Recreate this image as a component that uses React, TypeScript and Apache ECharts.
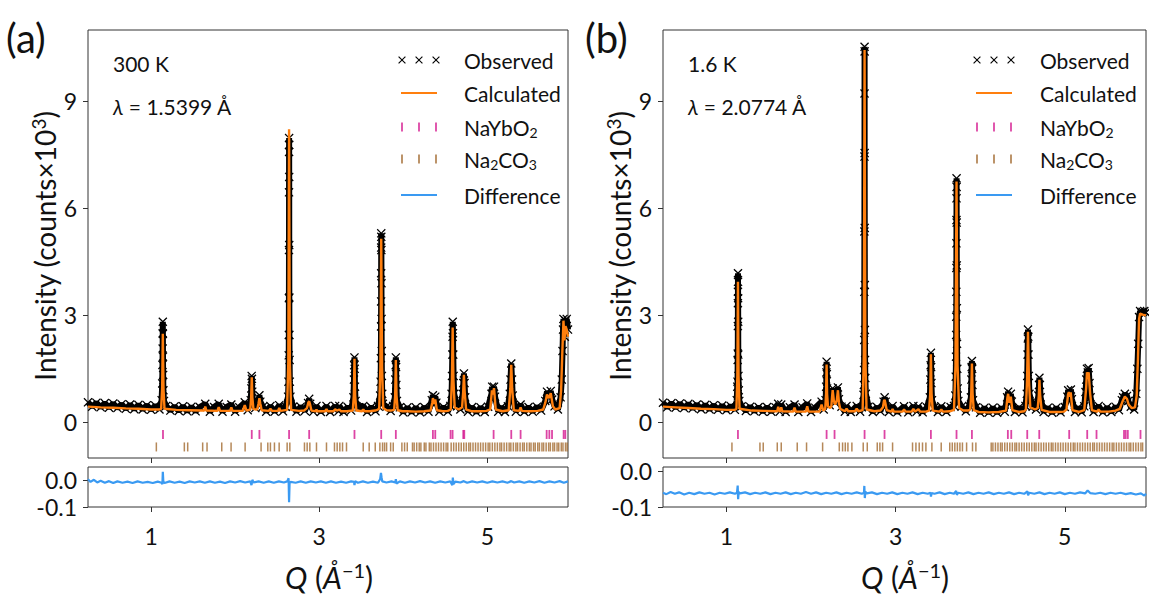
import React, { useEffect, useRef } from 'react';
import * as echarts from 'echarts';

// ---------- axes ----------
const X_MIN = 0.25;
const X_MAX = 5.96;
const xTickValues = [1, 3, 5];
const yTickValues = [0, 3, 6, 9];
const diffTickValues = [-0.1, 0.0];

// ---------- panel (a) 300 K ----------
const calcA: number[][] = [
  [0.25,0.44],[0.40,0.42],[0.55,0.41],[0.70,0.39],[0.85,0.38],[1.00,0.36],[1.10,0.36],
  [1.120,0.38],[1.132,0.95],[1.140,2.48],[1.148,0.95],[1.160,0.38],
  [1.30,0.35],[1.45,0.34],[1.60,0.33],[1.632,0.33],[1.645,0.44],[1.658,0.33],
  [1.79,0.32],[1.805,0.43],[1.82,0.32],[1.94,0.32],[1.955,0.42],[1.97,0.32],
  [2.09,0.32],[2.115,0.48],[2.135,0.33],
  [2.180,0.36],[2.191,0.70],[2.198,1.26],[2.205,0.70],[2.218,0.37],
  [2.262,0.36],[2.278,0.52],[2.289,0.68],[2.300,0.52],[2.316,0.34],
  [2.40,0.32],[2.42,0.38],[2.44,0.32],[2.51,0.32],[2.525,0.40],[2.54,0.32],
  [2.618,0.35],[2.633,1.70],[2.642,8.22],[2.651,1.70],[2.666,0.35],
  [2.76,0.32],[2.82,0.33],[2.855,0.40],[2.872,0.56],[2.881,0.59],[2.890,0.52],[2.908,0.33],
  [2.96,0.31],[2.968,0.36],[2.976,0.31],[3.07,0.31],[3.087,0.37],[3.10,0.31],
  [3.17,0.31],[3.19,0.37],[3.21,0.33],[3.24,0.36],[3.26,0.31],[3.33,0.31],
  [3.400,0.33],[3.412,0.75],[3.420,1.78],[3.428,0.75],[3.442,0.33],
  [3.51,0.31],[3.525,0.36],[3.54,0.31],[3.60,0.31],[3.665,0.33],[3.69,0.35],
  [3.714,0.38],[3.728,1.55],[3.738,5.15],[3.748,1.55],[3.762,0.40],
  [3.80,0.34],[3.85,0.33],
  [3.892,0.35],[3.904,0.75],[3.912,1.75],[3.920,0.75],[3.934,0.34],
  [3.99,0.31],[4.05,0.31],[4.15,0.30],[4.25,0.31],
  [4.325,0.33],[4.345,0.55],[4.353,0.68],[4.366,0.52],[4.381,0.64],[4.40,0.34],
  [4.47,0.31],[4.53,0.32],
  [4.565,0.36],[4.579,1.20],[4.588,2.66],[4.597,1.20],[4.612,0.42],
  [4.660,0.36],[4.700,0.42],[4.713,0.85],[4.722,1.33],[4.731,0.85],[4.748,0.36],
  [4.82,0.31],[4.92,0.31],[4.99,0.32],
  [5.035,0.36],[5.055,0.90],[5.066,0.78],[5.080,0.96],[5.100,0.36],
  [5.18,0.31],
  [5.255,0.34],[5.274,0.95],[5.285,1.61],[5.296,0.95],[5.315,0.34],
  [5.38,0.32],[5.396,0.42],[5.41,0.32],[5.50,0.31],[5.60,0.32],
  [5.665,0.36],[5.690,0.55],[5.710,0.78],[5.733,0.68],[5.755,0.82],[5.780,0.45],[5.810,0.36],
  [5.86,0.40],[5.878,0.90],[5.893,2.00],[5.906,2.85],[5.918,2.30],[5.930,2.70],[5.945,2.60],[5.96,2.40]
];

const obsA: number[][] = [
  [0.25,0.56],[0.30,0.44],[0.35,0.55],[0.40,0.42],[0.45,0.54],[0.50,0.41],[0.55,0.53],[0.60,0.40],
  [0.65,0.51],[0.70,0.38],[0.75,0.50],[0.80,0.37],[0.85,0.49],[0.90,0.36],[0.95,0.48],[1.00,0.35],
  [1.05,0.47],[1.10,0.36],
  [1.126,0.62],[1.133,1.09],[1.136,1.61],[1.138,2.07],[1.139,2.50],[1.140,2.82],[1.141,2.48],
  [1.142,1.84],[1.144,1.33],[1.147,0.90],[1.154,0.60],
  [1.18,0.46],[1.23,0.33],[1.28,0.45],[1.33,0.32],[1.38,0.45],[1.43,0.31],[1.48,0.44],[1.53,0.31],
  [1.58,0.43],[1.645,0.52],[1.70,0.30],[1.75,0.43],[1.805,0.52],[1.85,0.30],[1.90,0.43],[1.955,0.50],
  [2.00,0.30],[2.05,0.42],[2.115,0.56],[2.15,0.34],
  [2.186,0.62],[2.193,0.95],[2.197,1.30],[2.200,1.22],[2.204,0.86],[2.212,0.52],
  [2.24,0.40],
  [2.278,0.58],[2.289,0.76],[2.300,0.58],
  [2.33,0.44],[2.37,0.30],[2.42,0.46],[2.47,0.30],[2.525,0.48],[2.57,0.31],[2.60,0.44],
  [2.630,0.72],[2.635,1.14],[2.638,1.88],[2.639,2.45],[2.640,3.48],[2.641,4.83],[2.6415,6.45],
  [2.642,7.58],[2.6425,7.97],[2.643,7.78],[2.6435,6.88],[2.644,4.97],[2.645,3.50],[2.646,2.45],
  [2.648,1.75],[2.651,1.14],[2.658,0.72],
  [2.69,0.44],[2.73,0.30],[2.78,0.44],[2.83,0.32],
  [2.868,0.54],[2.881,0.66],[2.893,0.52],
  [2.93,0.30],[2.968,0.46],[3.02,0.29],[3.087,0.46],[3.13,0.29],[3.19,0.46],[3.23,0.31],[3.24,0.46],
  [3.29,0.29],[3.34,0.43],[3.38,0.33],
  [3.408,0.70],[3.414,1.20],[3.417,1.60],[3.420,1.82],[3.423,1.50],[3.426,1.00],[3.433,0.60],
  [3.47,0.42],[3.525,0.46],[3.57,0.29],[3.62,0.43],[3.67,0.31],[3.70,0.46],
  [3.725,0.75],[3.731,1.14],[3.734,1.80],[3.736,2.69],[3.737,3.39],[3.7375,4.18],[3.738,4.90],
  [3.7385,5.30],[3.739,5.20],[3.740,4.83],[3.741,3.90],[3.742,2.90],[3.744,2.00],[3.746,1.30],
  [3.750,0.80],[3.758,0.52],
  [3.80,0.44],[3.85,0.32],[3.88,0.46],
  [3.900,0.70],[3.906,1.20],[3.910,1.60],[3.912,1.82],[3.915,1.55],[3.918,1.05],[3.925,0.60],
  [3.96,0.42],[4.00,0.28],[4.05,0.42],[4.10,0.28],[4.15,0.42],[4.20,0.28],[4.25,0.43],[4.30,0.30],
  [4.34,0.62],[4.353,0.76],[4.366,0.60],[4.381,0.72],[4.394,0.55],
  [4.43,0.30],[4.48,0.43],[4.53,0.30],[4.56,0.46],
  [4.575,0.80],[4.580,1.30],[4.584,1.90],[4.587,2.40],[4.589,2.82],[4.592,2.50],[4.595,1.90],
  [4.599,1.30],[4.606,0.80],
  [4.64,0.45],[4.68,0.36],
  [4.708,0.80],[4.715,1.10],[4.722,1.37],[4.729,1.10],[4.737,0.70],
  [4.77,0.30],[4.82,0.43],[4.87,0.28],[4.92,0.42],[4.97,0.29],[5.01,0.44],
  [5.050,0.80],[5.058,1.00],[5.068,0.86],[5.080,1.00],[5.092,0.72],
  [5.13,0.30],[5.17,0.43],[5.21,0.29],[5.245,0.45],
  [5.268,0.80],[5.276,1.20],[5.285,1.65],[5.294,1.20],[5.302,0.75],
  [5.34,0.30],[5.396,0.50],[5.44,0.29],[5.49,0.43],[5.54,0.30],[5.59,0.44],[5.64,0.33],
  [5.69,0.60],[5.71,0.86],[5.733,0.74],[5.755,0.88],[5.772,0.64],[5.80,0.45],[5.84,0.36],
  [5.872,0.70],[5.886,1.20],[5.895,2.00],[5.901,2.60],[5.906,2.90],[5.914,2.55],[5.922,2.40],
  [5.930,2.85],[5.945,2.90],[5.96,2.60]
];

const diffA: number[][] = [
  [0.25,0.004],[0.28,-0.006],[0.32,0.002],[0.36,-0.008],[0.40,-0.002],[0.45,-0.009],[0.50,-0.003],
  [0.55,-0.010],[0.60,-0.004],[0.66,-0.009],[0.72,-0.005],[0.78,-0.010],[0.84,-0.004],[0.90,-0.009],
  [0.96,-0.006],[1.02,-0.010],[1.08,-0.005],[1.125,-0.009],[1.135,-0.015],[1.140,0.032],[1.146,-0.004],
  [1.16,-0.010],[1.22,-0.004],[1.28,-0.009],[1.34,-0.005],[1.40,-0.010],[1.46,-0.004],[1.52,-0.008],
  [1.58,-0.004],[1.64,-0.009],[1.70,-0.004],[1.76,-0.009],[1.82,-0.005],[1.88,-0.010],[1.94,-0.004],
  [2.00,-0.008],[2.06,-0.003],[2.12,-0.008],[2.18,-0.004],[2.195,-0.018],[2.205,0.002],[2.22,-0.008],
  [2.28,-0.004],[2.34,-0.009],[2.40,-0.004],[2.46,-0.009],[2.52,-0.004],[2.58,-0.008],[2.62,-0.004],
  [2.636,0.008],[2.642,-0.082],[2.648,-0.010],[2.66,-0.006],[2.72,-0.009],[2.78,-0.004],[2.84,-0.009],
  [2.90,-0.004],[2.96,-0.008],[3.02,-0.004],[3.08,-0.009],[3.14,-0.004],[3.20,-0.009],[3.26,-0.005],
  [3.32,-0.009],[3.38,-0.004],[3.415,-0.006],[3.42,-0.018],[3.428,-0.003],[3.46,-0.009],[3.52,-0.004],
  [3.58,-0.009],[3.64,-0.005],[3.70,-0.009],[3.726,0.005],[3.735,0.028],[3.742,0.012],[3.75,-0.004],
  [3.80,-0.008],[3.86,-0.004],[3.905,-0.008],[3.912,0.004],[3.92,-0.012],[3.96,-0.004],[4.02,-0.009],
  [4.08,-0.004],[4.14,-0.008],[4.20,-0.003],[4.26,-0.008],[4.32,-0.004],[4.38,-0.009],[4.44,-0.004],
  [4.50,-0.008],[4.56,-0.004],[4.584,-0.018],[4.590,0.010],[4.598,-0.014],[4.62,-0.005],[4.68,-0.008],
  [4.72,-0.003],[4.76,-0.009],[4.82,-0.004],[4.88,-0.008],[4.94,-0.004],[5.00,-0.009],[5.06,-0.004],
  [5.12,-0.008],[5.18,-0.004],[5.24,-0.009],[5.285,-0.003],[5.32,-0.008],[5.38,-0.004],[5.44,-0.009],
  [5.50,-0.004],[5.56,-0.008],[5.62,-0.003],[5.68,-0.009],[5.74,-0.004],[5.80,-0.008],[5.86,-0.003],
  [5.91,-0.009],[5.96,-0.004]
];

const naybA = [1.142, 2.198, 2.289, 2.642, 2.881, 3.420, 3.738, 3.912, 4.353, 4.381, 4.563, 4.587,
  4.714, 4.726, 5.075, 5.285, 5.396, 5.706, 5.738, 5.770, 5.908, 5.928];

const carbA = [1.063, 1.396, 1.436, 1.614, 1.666, 1.841, 1.952, 2.119, 2.309, 2.389, 2.420, 2.468,
  2.524, 2.619, 2.651, 2.825, 2.857, 2.889, 2.968, 3.087, 3.182, 3.214, 3.246, 3.278, 3.325, 3.524,
  3.595, 3.667, 3.722, 3.754, 3.778, 3.802, 3.850, 3.881, 3.984, 4.016, 4.048, 4.11, 4.13, 4.16, 4.19,
  4.21, 4.25, 4.27, 4.31, 4.33, 4.36, 4.39, 4.42, 4.45, 4.48, 4.51, 4.53, 4.57, 4.60, 4.63, 4.66, 4.69,
  4.72, 4.75, 4.78, 4.80, 4.83, 4.86, 4.89, 4.92, 4.95, 4.98, 5.01, 5.03, 5.06, 5.09, 5.12, 5.15, 5.17,
  5.20, 5.23, 5.26, 5.28, 5.31, 5.34, 5.36, 5.39, 5.42, 5.44, 5.47, 5.50, 5.52, 5.55, 5.57, 5.60, 5.62,
  5.65, 5.67, 5.70, 5.73, 5.75, 5.78, 5.80, 5.83, 5.85, 5.88, 5.90, 5.93, 5.95];

// ---------- panel (b) 1.6 K ----------
const calcB: number[][] = [
  [0.25,0.44],[0.40,0.42],[0.55,0.40],[0.70,0.38],[0.85,0.37],[1.00,0.35],[1.10,0.35],
  [1.118,0.38],[1.129,1.30],[1.136,3.94],[1.143,1.30],[1.155,0.38],
  [1.30,0.33],[1.45,0.32],[1.58,0.31],[1.600,0.31],[1.612,0.44],[1.624,0.31],[1.635,0.31],[1.648,0.42],[1.66,0.31],
  [1.79,0.30],[1.805,0.41],[1.82,0.30],[1.94,0.30],[1.955,0.45],[1.97,0.30],
  [2.10,0.30],[2.125,0.50],[2.145,0.33],
  [2.168,0.38],[2.178,0.80],[2.184,1.62],[2.190,0.80],[2.200,0.45],[2.225,0.40],
  [2.240,0.45],[2.250,0.75],[2.256,0.90],[2.270,0.60],[2.285,0.50],[2.305,0.62],[2.318,0.90],[2.330,0.55],[2.345,0.38],
  [2.40,0.31],[2.42,0.38],[2.44,0.31],[2.52,0.31],[2.54,0.38],[2.56,0.31],
  [2.610,0.34],[2.624,1.90],[2.633,10.44],[2.642,1.90],[2.656,0.36],
  [2.75,0.31],[2.82,0.33],[2.85,0.42],[2.862,0.60],[2.870,0.63],[2.878,0.55],[2.895,0.34],
  [2.95,0.30],[2.964,0.37],[2.978,0.30],[3.08,0.30],[3.10,0.36],[3.12,0.30],
  [3.19,0.30],[3.21,0.38],[3.23,0.30],[3.27,0.37],[3.29,0.30],[3.36,0.30],
  [3.395,0.33],[3.409,0.80],[3.417,1.91],[3.425,0.80],[3.439,0.33],
  [3.52,0.30],[3.54,0.36],[3.56,0.30],[3.64,0.31],
  [3.690,0.35],[3.708,1.60],[3.720,6.75],[3.732,1.60],[3.750,0.40],
  [3.80,0.33],[3.86,0.33],
  [3.882,0.36],[3.894,0.80],[3.902,1.65],[3.910,0.80],[3.924,0.34],
  [3.98,0.29],[4.10,0.28],[4.22,0.29],
  [4.305,0.33],[4.322,0.70],[4.330,0.80],[4.345,0.55],[4.362,0.72],[4.380,0.34],
  [4.46,0.29],[4.52,0.31],
  [4.540,0.36],[4.554,1.20],[4.565,2.54],[4.576,1.20],[4.592,0.42],
  [4.650,0.36],[4.680,0.40],[4.693,0.75],[4.700,1.19],[4.709,0.75],[4.726,0.35],
  [4.82,0.29],[4.92,0.29],[4.99,0.30],
  [5.020,0.36],[5.038,0.78],[5.048,0.85],[5.058,0.72],[5.070,0.84],[5.090,0.34],
  [5.17,0.29],
  [5.230,0.34],[5.252,0.95],[5.262,1.40],[5.272,1.35],[5.282,1.40],[5.300,0.80],[5.320,0.34],
  [5.38,0.30],[5.40,0.36],[5.42,0.30],[5.52,0.30],[5.60,0.33],
  [5.650,0.38],[5.685,0.60],[5.710,0.72],[5.735,0.66],[5.755,0.50],[5.790,0.40],[5.83,0.42],
  [5.850,0.75],[5.865,1.80],[5.878,2.90],[5.890,3.05],[5.920,3.02],[5.96,3.00]
];

const obsB: number[][] = [
  [0.25,0.55],[0.30,0.42],[0.35,0.54],[0.40,0.41],[0.45,0.53],[0.50,0.40],[0.55,0.52],[0.60,0.39],
  [0.65,0.50],[0.70,0.37],[0.75,0.49],[0.80,0.36],[0.85,0.48],[0.90,0.35],[0.95,0.47],[1.00,0.34],
  [1.05,0.46],[1.10,0.35],
  [1.122,0.62],[1.128,1.00],[1.131,1.14],[1.133,1.75],[1.134,1.93],[1.135,2.70],[1.1355,3.34],
  [1.136,3.66],[1.1365,4.18],[1.137,3.94],[1.138,3.48],[1.139,2.82],[1.140,1.90],[1.142,1.30],
  [1.146,0.90],[1.152,0.60],
  [1.18,0.45],[1.23,0.32],[1.28,0.44],[1.33,0.31],[1.38,0.43],[1.43,0.30],[1.48,0.43],[1.53,0.30],
  [1.58,0.42],[1.612,0.52],[1.63,0.30],[1.648,0.50],[1.70,0.29],[1.75,0.42],[1.805,0.50],[1.85,0.29],
  [1.90,0.42],[1.955,0.53],[2.00,0.29],[2.05,0.41],[2.125,0.58],[2.15,0.36],
  [2.172,0.62],[2.179,1.00],[2.182,1.40],[2.184,1.70],[2.187,1.35],[2.190,0.95],[2.198,0.60],
  [2.22,0.48],
  [2.245,0.75],[2.256,0.95],[2.285,0.55],[2.318,0.98],[2.330,0.65],
  [2.36,0.44],[2.40,0.30],[2.42,0.46],[2.47,0.29],[2.54,0.46],[2.58,0.30],[2.60,0.42],
  [2.621,0.77],[2.625,1.05],[2.627,1.47],[2.629,2.31],[2.630,3.66],[2.631,5.35],[2.632,7.45],
  [2.6325,9.22],[2.633,10.53],[2.6335,10.40],[2.634,7.55],[2.635,5.45],[2.636,3.85],[2.637,2.59],
  [2.639,1.75],[2.642,1.24],[2.648,0.80],
  [2.68,0.44],[2.73,0.29],[2.78,0.43],[2.82,0.31],
  [2.858,0.58],[2.870,0.70],[2.882,0.58],
  [2.92,0.29],[2.964,0.46],[3.02,0.28],[3.10,0.45],[3.15,0.28],[3.21,0.46],[3.25,0.30],[3.27,0.45],
  [3.32,0.28],[3.37,0.42],
  [3.405,0.70],[3.411,1.20],[3.414,1.60],[3.417,1.95],[3.420,1.55],[3.423,1.10],[3.430,0.62],
  [3.46,0.42],[3.50,0.29],[3.54,0.45],[3.60,0.29],[3.65,0.43],[3.69,0.46],
  [3.706,0.75],[3.711,1.28],[3.714,1.84],[3.716,2.45],[3.717,2.96],[3.718,3.66],[3.7185,4.33],
  [3.719,5.02],[3.7195,5.67],[3.720,6.28],[3.7205,6.84],[3.721,6.60],[3.722,5.60],[3.723,4.40],
  [3.724,3.20],[3.726,2.20],[3.729,1.50],[3.734,0.95],[3.742,0.60],
  [3.78,0.44],[3.83,0.31],[3.87,0.46],
  [3.890,0.70],[3.896,1.20],[3.899,1.55],[3.902,1.72],[3.905,1.50],[3.908,1.05],[3.915,0.62],
  [3.95,0.42],[4.00,0.27],[4.05,0.41],[4.10,0.27],[4.15,0.41],[4.20,0.27],[4.25,0.41],[4.29,0.30],
  [4.318,0.70],[4.330,0.86],[4.345,0.66],[4.362,0.80],[4.374,0.58],
  [4.41,0.29],[4.46,0.42],[4.50,0.28],[4.535,0.46],
  [4.551,0.80],[4.556,1.30],[4.560,1.90],[4.563,2.35],[4.565,2.60],[4.568,2.40],[4.571,1.90],
  [4.575,1.30],[4.582,0.80],
  [4.62,0.44],[4.66,0.36],
  [4.688,0.75],[4.695,1.05],[4.700,1.25],[4.706,1.05],[4.714,0.70],
  [4.75,0.29],[4.80,0.41],[4.85,0.27],[4.90,0.41],[4.95,0.28],[5.00,0.43],
  [5.030,0.72],[5.040,0.90],[5.058,0.80],[5.072,0.92],[5.084,0.65],
  [5.12,0.29],[5.16,0.42],[5.20,0.28],[5.23,0.45],
  [5.245,0.85],[5.254,1.20],[5.262,1.50],[5.272,1.40],[5.282,1.52],[5.292,1.10],[5.305,0.70],
  [5.34,0.29],[5.40,0.46],[5.45,0.28],[5.50,0.42],[5.55,0.29],[5.60,0.44],[5.64,0.34],
  [5.675,0.62],[5.69,0.70],[5.71,0.80],[5.735,0.74],[5.75,0.60],
  [5.78,0.44],[5.82,0.36],
  [5.845,0.80],[5.858,1.50],[5.868,2.20],[5.878,2.95],[5.890,3.12],[5.905,3.08],[5.92,3.10],
  [5.94,3.12],[5.96,3.08]
];

const diffB: number[][] = [
  [0.25,-0.060],[0.29,-0.064],[0.34,-0.058],[0.39,-0.063],[0.44,-0.059],[0.50,-0.065],[0.56,-0.060],
  [0.62,-0.064],[0.68,-0.059],[0.74,-0.063],[0.80,-0.060],[0.86,-0.065],[0.92,-0.060],[0.98,-0.063],
  [1.04,-0.059],[1.10,-0.063],[1.125,-0.060],[1.133,-0.040],[1.138,-0.078],[1.145,-0.058],[1.16,-0.062],
  [1.22,-0.059],[1.28,-0.064],[1.34,-0.060],[1.40,-0.063],[1.46,-0.059],[1.52,-0.064],[1.58,-0.060],
  [1.64,-0.063],[1.70,-0.059],[1.76,-0.064],[1.82,-0.060],[1.88,-0.063],[1.94,-0.058],[2.00,-0.063],
  [2.06,-0.059],[2.12,-0.064],[2.18,-0.060],[2.24,-0.063],[2.30,-0.059],[2.36,-0.064],[2.42,-0.060],
  [2.48,-0.063],[2.54,-0.059],[2.60,-0.063],[2.626,-0.060],[2.630,-0.041],[2.636,-0.075],[2.642,-0.057],
  [2.66,-0.062],[2.72,-0.059],[2.78,-0.064],[2.84,-0.060],[2.90,-0.063],[2.96,-0.059],[3.02,-0.064],
  [3.08,-0.060],[3.14,-0.063],[3.20,-0.059],[3.26,-0.064],[3.32,-0.060],[3.38,-0.063],[3.412,-0.060],
  [3.418,-0.071],[3.425,-0.061],[3.46,-0.063],[3.52,-0.059],[3.58,-0.064],[3.64,-0.060],[3.69,-0.063],
  [3.716,-0.055],[3.724,-0.066],[3.74,-0.060],[3.80,-0.063],[3.86,-0.059],[3.92,-0.064],[3.98,-0.060],
  [4.04,-0.063],[4.10,-0.059],[4.16,-0.064],[4.22,-0.060],[4.28,-0.063],[4.34,-0.059],[4.40,-0.064],
  [4.46,-0.060],[4.52,-0.063],[4.558,-0.056],[4.566,-0.067],[4.58,-0.060],[4.64,-0.063],[4.70,-0.059],
  [4.76,-0.064],[4.82,-0.060],[4.88,-0.063],[4.94,-0.059],[5.00,-0.064],[5.06,-0.060],[5.12,-0.063],
  [5.18,-0.059],[5.24,-0.062],[5.27,-0.054],[5.30,-0.061],[5.36,-0.063],[5.42,-0.060],[5.48,-0.064],
  [5.54,-0.060],[5.60,-0.063],[5.66,-0.060],[5.72,-0.064],[5.78,-0.061],[5.84,-0.065],[5.90,-0.062],
  [5.94,-0.068],[5.96,-0.063]
];

const naybB = [1.136, 2.184, 2.278, 2.633, 2.869, 3.417, 3.720, 3.902, 4.327, 4.367, 4.556, 4.698,
  5.052, 5.265, 5.375, 5.700, 5.720, 5.745, 5.895];

const carbB = [1.065, 1.396, 1.435, 1.601, 1.648, 1.837, 1.947, 2.137, 2.334, 2.373, 2.405, 2.436,
  2.483, 2.617, 2.665, 2.783, 2.814, 2.846, 2.964, 3.200, 3.240, 3.279, 3.318, 3.358, 3.429, 3.539,
  3.64, 3.67, 3.70, 3.73, 3.76, 3.79, 3.839, 3.909, 3.949, 4.13, 4.15, 4.18, 4.21, 4.24, 4.26, 4.29,
  4.32, 4.35, 4.38, 4.41, 4.43, 4.46, 4.49, 4.52, 4.55, 4.58, 4.61, 4.64, 4.66, 4.69, 4.72, 4.75, 4.78,
  4.81, 4.84, 4.86, 4.89, 4.92, 4.95, 4.98, 5.01, 5.04, 5.07, 5.10, 5.12, 5.15, 5.18, 5.21, 5.24, 5.27,
  5.30, 5.33, 5.35, 5.38, 5.41, 5.44, 5.47, 5.50, 5.53, 5.56, 5.58, 5.61, 5.64, 5.67, 5.70, 5.73, 5.76,
  5.78, 5.81, 5.84, 5.87, 5.90, 5.92];

// ---------- styling ----------
const FONT = 'Lato, "DejaVu Sans", sans-serif';
const C_OBS = '#000000';
const C_CALC = '#ff7f0e';
const C_NAYB = '#d4178f';
const C_CARB = '#a36a30';
const C_DIFF = '#3a9af2';
const C_AXIS = '#333333';
const NAYB_ROW = -0.34;
const CARB_ROW = -0.69;
const CROSS = 'path://M1,0 L5,4 L9,0 L10,1 L6,5 L10,9 L9,10 L5,6 L1,10 L0,9 L4,5 L0,1 Z';
const TICK_FONT = 23;

function txt(x: number, y: number, text: string, size: number, align = 'left', extra: any = {}) {
  const small = Math.round(size * 0.68);
  const lh = Math.round(size * 0.38);
  return {
    type: 'text', x, y, silent: true, ...extra,
    style: {
      text, fontSize: size, fontFamily: FONT, fill: '#111', lineHeight: size + 4,
      align, textAlign: align, verticalAlign: 'middle', textVerticalAlign: 'middle',
      rich: {
        sub: { fontSize: small, lineHeight: lh, verticalAlign: 'bottom', fontFamily: FONT, fill: '#111' },
        sup: { fontSize: small, lineHeight: lh, verticalAlign: 'top', fontFamily: FONT, fill: '#111' },
        it: { fontStyle: 'italic', fontFamily: FONT, fill: '#111', fontSize: size },
      },
    },
  };
}

function legendElems(marks: number[], x0: number, x1: number, xText: number) {
  const rows = [60, 93, 127, 159, 195];
  const els: any[] = [];
  marks.forEach((m) => {
    const r = 3.4;
    els.push({ type: 'line', silent: true, shape: { x1: m - r, y1: rows[0] - r, x2: m + r, y2: rows[0] + r }, style: { stroke: C_OBS, lineWidth: 1.1 } });
    els.push({ type: 'line', silent: true, shape: { x1: m - r, y1: rows[0] + r, x2: m + r, y2: rows[0] - r }, style: { stroke: C_OBS, lineWidth: 1.1 } });
    els.push({ type: 'line', silent: true, shape: { x1: m, y1: rows[2] - 4.5, x2: m, y2: rows[2] + 4.5 }, style: { stroke: C_NAYB, lineWidth: 1.8, opacity: 0.8 } });
    els.push({ type: 'line', silent: true, shape: { x1: m, y1: rows[3] - 4.5, x2: m, y2: rows[3] + 4.5 }, style: { stroke: C_CARB, lineWidth: 1.8, opacity: 0.8 } });
  });
  els.push({ type: 'line', silent: true, shape: { x1: x0, y1: rows[1], x2: x1, y2: rows[1] }, style: { stroke: C_CALC, lineWidth: 2 } });
  els.push({ type: 'line', silent: true, shape: { x1: x0, y1: rows[4], x2: x1, y2: rows[4] }, style: { stroke: C_DIFF, lineWidth: 2 } });
  els.push(txt(xText, rows[0], 'Observed', 21));
  els.push(txt(xText, rows[1], 'Calculated', 21));
  els.push(txt(xText, rows[2], 'NaYbO{sub|2}', 21));
  els.push(txt(xText, rows[3], 'Na{sub|2}CO{sub|3}', 21));
  els.push(txt(xText, rows[4], 'Difference', 21));
  return els;
}

const GRIDS = [
  { left: 88, top: 30, width: 480, height: 428 },
  { left: 88, top: 467, width: 480, height: 40 },
  { left: 663, top: 30, width: 483, height: 428 },
  { left: 663, top: 467, width: 483, height: 40 },
];

function xAxis(gridIndex: number, labels: boolean) {
  return {
    type: 'value', gridIndex, min: X_MIN, max: X_MAX,
    axisLine: { show: false, onZero: false },
    splitLine: { show: false },
    axisTick: { show: true, length: 5, customValues: xTickValues, lineStyle: { color: C_AXIS, width: 1 } },
    axisLabel: {
      show: labels, customValues: xTickValues, margin: 17, fontSize: TICK_FONT, fontFamily: FONT, color: '#111',
      formatter: (v: number) => String(v),
    },
  };
}

function yMain(gridIndex: number) {
  return {
    type: 'value', gridIndex, min: -1, max: 11,
    axisLine: { show: false, onZero: false },
    splitLine: { show: false },
    axisTick: { show: true, length: 5, customValues: yTickValues, lineStyle: { color: C_AXIS, width: 1 } },
    axisLabel: { customValues: yTickValues, margin: 11, fontSize: TICK_FONT, fontFamily: FONT, color: '#111', formatter: (v: number) => String(v) },
  };
}

function yDiff(gridIndex: number, max: number) {
  return {
    type: 'value', gridIndex, min: -0.1, max,
    axisLine: { show: false, onZero: false },
    splitLine: { show: false },
    axisTick: { show: true, length: 5, customValues: diffTickValues, lineStyle: { color: C_AXIS, width: 1 } },
    axisLabel: {
      customValues: diffTickValues, margin: 11, fontSize: TICK_FONT, fontFamily: FONT, color: '#111',
      formatter: (v: number) => Number(v).toFixed(1),
    },
  };
}

function panelSeries(calc: number[][], obs: number[][], diff: number[][], nayb: number[], carb: number[], mainX: number, diffX: number) {
  return [
    {
      type: 'line', xAxisIndex: mainX, yAxisIndex: mainX, data: obs, silent: true, z: 2,
      symbol: CROSS, symbolSize: 9, showSymbol: true, showAllSymbol: true,
      itemStyle: { color: C_OBS }, lineStyle: { color: C_OBS, width: 6 }, clip: true,
    },
    {
      type: 'line', xAxisIndex: mainX, yAxisIndex: mainX, data: calc, silent: true, z: 3,
      symbol: 'none', lineStyle: { color: C_CALC, width: 2.4 }, clip: true,
    },
    {
      type: 'scatter', xAxisIndex: mainX, yAxisIndex: mainX, silent: true, z: 3,
      data: nayb.map((q) => [q, NAYB_ROW]), symbol: 'rect', symbolSize: [1.8, 9],
      itemStyle: { color: C_NAYB },
    },
    {
      type: 'scatter', xAxisIndex: mainX, yAxisIndex: mainX, silent: true, z: 3,
      data: carb.map((q) => [q, CARB_ROW]), symbol: 'rect', symbolSize: [1.5, 9],
      itemStyle: { color: C_CARB },
    },
    {
      type: 'line', xAxisIndex: diffX, yAxisIndex: diffX, data: diff, silent: true, z: 3,
      symbol: 'none', lineStyle: { color: C_DIFF, width: 2.2 }, clip: true,
    },
  ];
}

const graphicEls: any[] = [
  txt(6, 38, '(a)', 40),
  txt(585, 38, '(b)', 40),
  txt(113, 63, '300 K', 21),
  txt(113, 106, '{it|λ} = 1.5399 Å', 21),
  txt(688, 63, '1.6 K', 21),
  txt(688, 106, '{it|λ} = 2.0774 Å', 21),
  txt(45, 246, 'Intensity (counts×10{sup|3})', 28, 'center', { rotation: Math.PI / 2 }),
  txt(620, 246, 'Intensity (counts×10{sup|3})', 28, 'center', { rotation: Math.PI / 2 }),
  txt(329, 577, '{it|Q} ({it|Å}{sup|−1})', 30, 'center'),
  txt(905, 577, '{it|Q} ({it|Å}{sup|−1})', 30, 'center'),
  ...legendElems([402, 419, 436], 401, 437, 464),
  ...legendElems([977, 994, 1011], 976, 1012, 1040),
];

const option: any = {
  animation: false,
  backgroundColor: '#ffffff',
  grid: GRIDS.map((g) => ({ ...g, show: true, borderColor: C_AXIS, borderWidth: 1, backgroundColor: 'transparent', containLabel: false, outerBoundsMode: 'none' })),
  xAxis: [xAxis(0, false), xAxis(1, true), xAxis(2, false), xAxis(3, true)],
  yAxis: [yMain(0), yDiff(1, 0.05), yMain(2), yDiff(3, 0.012)],
  series: [
    ...panelSeries(calcA, obsA, diffA, naybA, carbA, 0, 1),
    ...panelSeries(calcB, obsB, diffB, naybB, carbB, 2, 3),
  ],
  graphic: { elements: graphicEls },
};

export default function App() {
  const ref = useRef<HTMLDivElement>(null);
  useEffect(() => {
    if (!ref.current) return;
    const chart = echarts.init(ref.current, null, { renderer: 'svg' });
    chart.setOption(option);
    return () => chart.dispose();
  }, []);
  return (
    <div
      ref={ref}
      style={{ position: 'fixed', left: 0, top: 0, width: 1149, height: 594, background: '#fff' }}
    />
  );
}
